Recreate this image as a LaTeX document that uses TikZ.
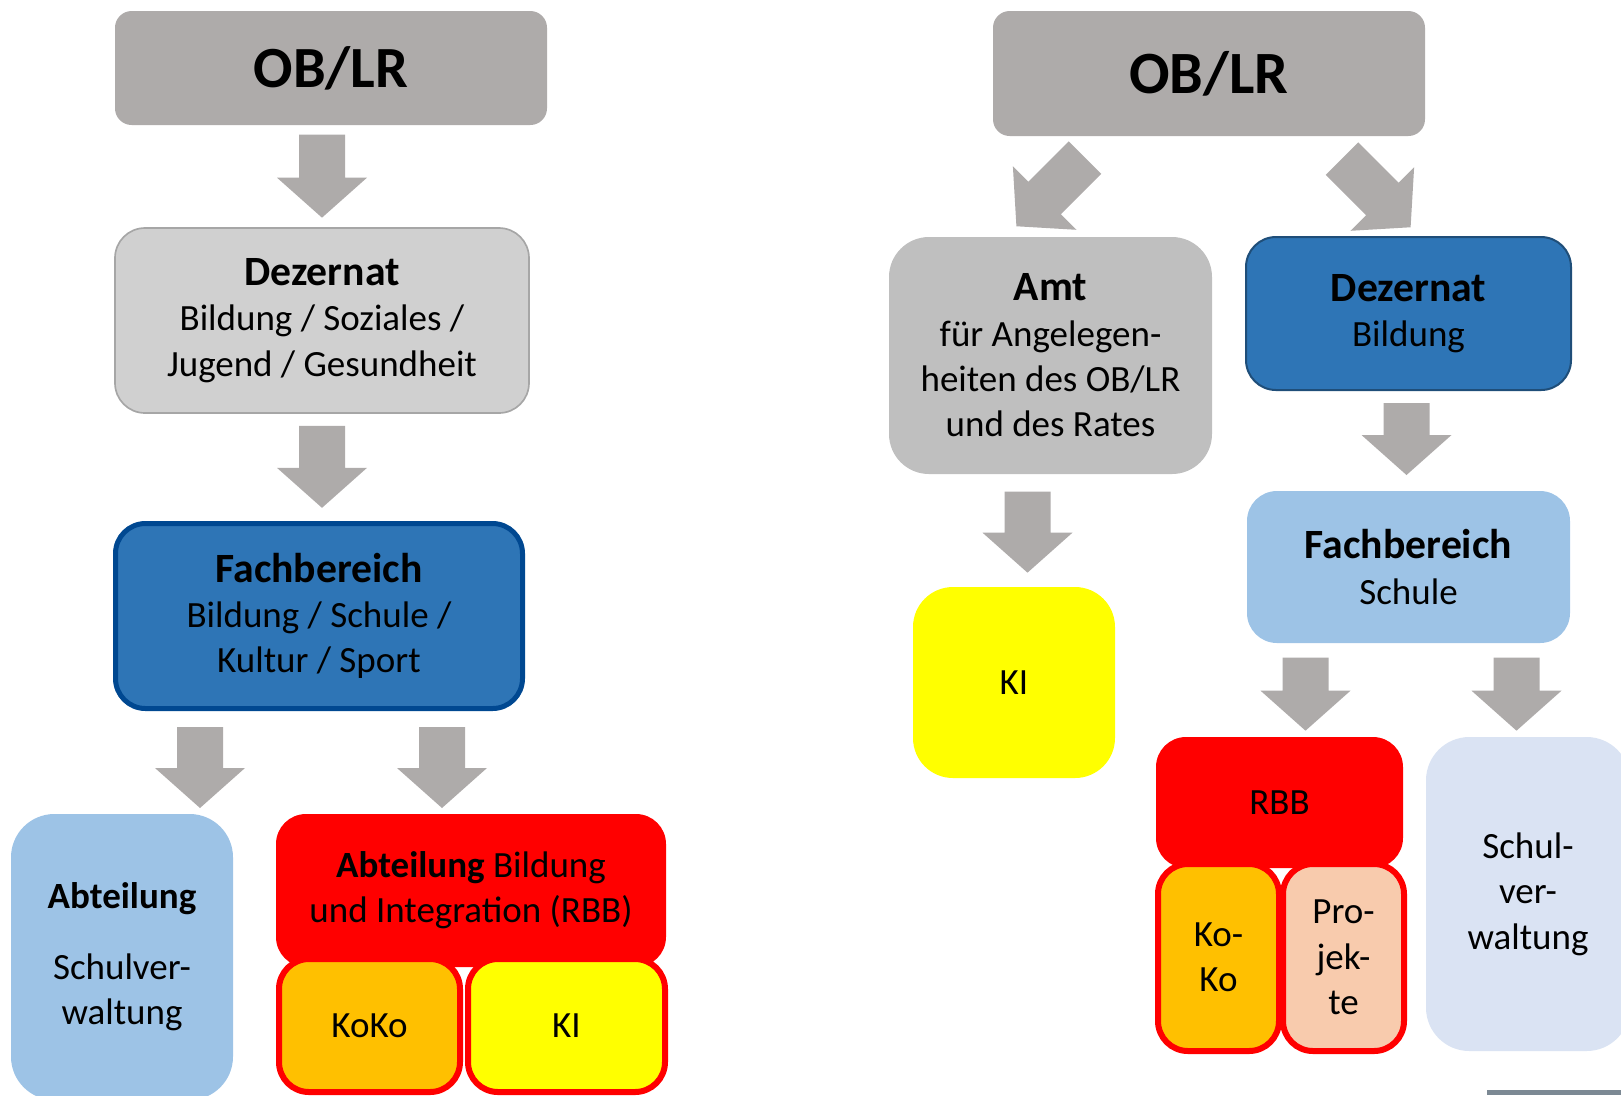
\documentclass[tikz,border=0pt]{standalone}
\usepackage{fontspec}
\setmainfont{Carlito}
\usepackage{tikz}

\definecolor{arrowgray}{RGB}{174,171,170}
\definecolor{dezgray}{RGB}{208,208,208}
\definecolor{dezline}{RGB}{166,166,166}
\definecolor{amtgray}{RGB}{191,191,191}
\definecolor{fbblue}{RGB}{46,117,182}
\definecolor{fbline}{RGB}{0,72,145}
\definecolor{dezline2}{RGB}{31,78,121}
\definecolor{lightblue}{RGB}{157,195,230}
\definecolor{paleblue}{RGB}{218,227,243}
\definecolor{rbbred}{RGB}{255,0,0}
\definecolor{kokoorange}{RGB}{255,192,0}
\definecolor{kiyellow}{RGB}{255,255,0}
\definecolor{projpeach}{RGB}{248,203,173}
\definecolor{slate}{RGB}{124,137,148}

\newcommand{\boxhead}[1]{{\fontsize{12.5}{13.6}\selectfont\bfseries #1}}

\begin{document}
\begin{tikzpicture}[
    x=0.3pt, y=-0.3pt,
    unit/.style={rectangle, rounded corners=9pt, align=center, inner sep=0pt, font=\fontsize{11.1}{13.6}\selectfont},
    chief/.style={unit, fill=arrowgray, rounded corners=5pt, minimum width=129.6pt, font=\fontsize{17.5}{21}\selectfont\bfseries},
    subunit/.style={unit, draw=rbbred, line width=1.8pt},
    pics/blockarrow/.style={code={
        \fill[arrowgray] (-23,0) -- (-23,#1-40) -- (-45,#1-40) -- (0,#1) -- (45,#1-40) -- (23,#1-40) -- (23,0) -- cycle;
    }}
]
\useasboundingbox (0,0) rectangle (1621,1095);

% left chart
\node[chief, minimum height=34.2pt] (obl1) at (331,68) {OB/LR};
\node[unit, fill=dezgray, draw=dezline, line width=0.5pt, minimum width=124.2pt, minimum height=55.5pt] (dez1) at (322,320.5) {\boxhead{Dezernat}\\Bildung / Soziales /\\Jugend / Gesundheit};
\node[unit, fill=fbblue, draw=fbline, line width=1.5pt, minimum width=122.1pt, minimum height=55.5pt] (fach1) at (319,616) {\boxhead{Fachbereich}\\Bildung / Schule /\\Kultur / Sport};
\node[unit, fill=lightblue, rounded corners=13pt, minimum width=66.6pt, minimum height=85.8pt] (abt1) at (122,957) {\textbf{Abteilung}\\[7.5pt]Schulver-\\waltung};
\node[unit, fill=rbbred, minimum width=117pt, minimum height=45.9pt] (rbb1) at (471,890.5) {\textbf{Abteilung} Bildung\\und Integration (RBB)};
\node[subunit, fill=kokoorange, minimum width=54.3pt, minimum height=39.9pt] (koko1) at (369.5,1025.5) {KoKo};
\node[subunit, fill=kiyellow, minimum width=59.1pt, minimum height=39.9pt] (ki1) at (566.5,1025.5) {KI};

\path (obl1.south -| dez1.north) ++(0,9) pic {blockarrow=83};
\path (dez1.south) ++(0,12) pic {blockarrow=82};
\path (fach1.south) ++(-119,16) pic {blockarrow=81};
\path (fach1.south) ++(123,16) pic {blockarrow=81};

% right chart
\node[chief, minimum height=37.5pt, font=\fontsize{18}{21}\selectfont\bfseries] (obl2) at (1209,73.5) {OB/LR};
\node[unit, fill=amtgray, rounded corners=12pt, minimum width=96.9pt, minimum height=71.1pt] (amt2) at (1050.5,355.5) {\boxhead{Amt}\\für Angelegen-\\heiten des OB/LR\\und des Rates};
\node[unit, fill=fbblue, draw=dezline2, line width=0.6pt, minimum width=97.5pt, minimum height=45.9pt] (dez2) at (1408.5,313.5) {\boxhead{Dezernat}\\Bildung};
\node[unit, fill=kiyellow, rounded corners=12pt, minimum width=60.6pt, minimum height=57.3pt] (ki2) at (1014,682.5) {KI};
\node[unit, fill=lightblue, minimum width=96.9pt, minimum height=45.6pt] (fach2) at (1408.5,567) {\boxhead{Fachbereich}\\Schule};
\node[unit, fill=rbbred, minimum width=74.1pt, minimum height=39.3pt] (rbb2) at (1279.5,802.5) {RBB};
\node[subunit, fill=kokoorange, minimum width=36.3pt, minimum height=56.1pt] (koko2) at (1218.5,957.5) {Ko-\\Ko};
\node[subunit, fill=projpeach, minimum width=36.3pt, minimum height=56.1pt] (proj2) at (1343.5,957.5) {Pro-\\jek-\\te};
\node[unit, fill=paleblue, rounded corners=13pt, minimum width=61.2pt, minimum height=94.2pt] (schul2) at (1528,894) {Schul-\\ver-\\waltung};

\path (obl2.south) ++(-124,21) pic[rotate=-45] {blockarrow=97};
\path (obl2.south) ++(133,22) pic[rotate=45] {blockarrow=97};
\path (amt2.south) ++(-23,17) pic {blockarrow=81};
\path (dez2.south) ++(-2,12) pic {blockarrow=72};
\path (fach2.south) ++(-103,14) pic {blockarrow=73};
\path (fach2.south) ++(108,14) pic {blockarrow=73};

\fill[slate] (1487,1090) rectangle (1621,1095);
\end{tikzpicture}
\end{document}
